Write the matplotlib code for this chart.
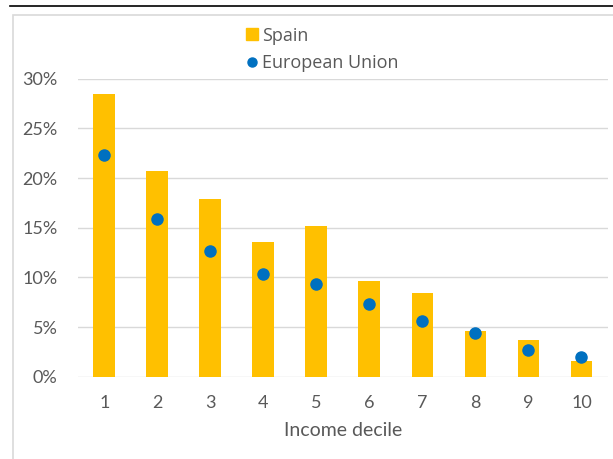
import matplotlib
matplotlib.use("Agg")
import matplotlib.pyplot as plt
from matplotlib.lines import Line2D
from matplotlib.patches import Rectangle
from matplotlib.ticker import FuncFormatter

deciles = ["1", "2", "3", "4", "5", "6", "7", "8", "9", "10"]
spain = [28.5, 20.7, 17.9, 13.6, 15.2, 9.6, 8.4, 4.6, 3.7, 1.6]
eu = [22.3, 15.9, 12.7, 10.3, 9.3, 7.3, 5.65, 4.35, 2.7, 1.95]
series_names = ["Spain", "European Union"]
x_label = "Income decile"

BAR_C = "#FFC000"
DOT_C = "#0070C0"
TXT_C = "#595959"
GRID_C = "#D9D9D9"

plt.rcParams["font.family"] = ["Lato", "DejaVu Sans"]

W, H = 613, 459
fig = plt.figure(figsize=(W / 100, H / 100), dpi=100)

# outer decorations
fig.add_artist(Line2D([10 / W, 1.0], [1 - 6 / H, 1 - 6 / H], color="black", lw=1.2,
                      transform=fig.transFigure))
fig.add_artist(Rectangle((12.5 / W, -0.05), 1.0, 1 - 15.5 / H + 0.05, fill=False,
                         edgecolor=GRID_C, lw=1.2, transform=fig.transFigure))

left, right = 77.7 / W, 608 / W
bottom, top = 1 - 376.7 / H, 1 - 78.7 / H
ax = fig.add_axes([left, bottom, right - left, top - bottom])

xs = list(range(1, len(deciles) + 1))
ax.bar(xs, spain, width=0.41, color=BAR_C, zorder=2)
ax.plot(xs, eu, linestyle="none", marker="o", ms=8, color=DOT_C, zorder=3)

ax.set_xlim(0.5, len(deciles) + 0.5)
ax.set_ylim(0, 30)
ax.set_yticks([0, 5, 10, 15, 20, 25, 30])
ax.yaxis.set_major_formatter(FuncFormatter(lambda v, p: f"{int(v)}%"))
ax.set_xticks(xs)
ax.set_xticklabels(deciles)
ax.grid(axis="y", color=GRID_C, lw=1.0, zorder=0)
ax.set_axisbelow(True)
for s in ax.spines.values():
    s.set_visible(False)
ax.tick_params(axis="both", length=0, labelsize=13, labelcolor=TXT_C)
ax.tick_params(axis="y", pad=14.5)
ax.tick_params(axis="x", pad=13)
ax.set_xlabel(x_label, fontsize=14, color=TXT_C, labelpad=8)

handles = [
    Line2D([], [], linestyle="none", marker="s", ms=8, color=BAR_C),
    Line2D([], [], linestyle="none", marker="o", ms=6.5, color=DOT_C),
]
fig.legend(handles, series_names, loc="center left",
           bbox_to_anchor=(245.8 / W, 1 - 49.5 / H), frameon=False,
           prop={"family": ["Open Sans", "DejaVu Sans"], "size": 13},
           labelcolor=TXT_C, borderpad=0, borderaxespad=0,
           handlelength=0.72, handletextpad=0.2, labelspacing=0.55)

fig.savefig("out.png", dpi=100)
